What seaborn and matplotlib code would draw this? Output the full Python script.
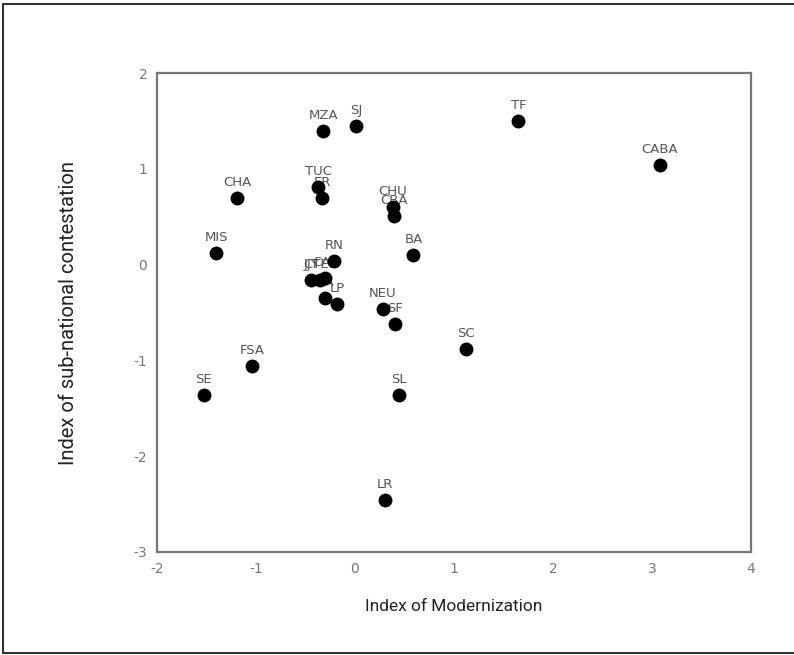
import pandas as pd
import matplotlib
matplotlib.use("Agg")
import matplotlib.pyplot as plt
from matplotlib.lines import Line2D
import seaborn as sns

# Province codes and their index values
provinces = ['MZA', 'SJ', 'TF', 'CABA', 'CHA', 'TUC', 'ER', 'CHU', 'CBA', 'MIS',
             'RN', 'BA', 'JJY', 'CTES', 'CAT', 'SA', 'LP', 'NEU', 'SF', 'SC',
             'FSA', 'SE', 'SL', 'LR']
modernization = [-0.32, 0.01, 1.65, 3.08, -1.19, -0.37, -0.33, 0.38, 0.39, -1.40,
                 -0.21, 0.59, -0.44, -0.35, -0.30, -0.30, -0.18, 0.28, 0.40, 1.12,
                 -1.04, -1.53, 0.44, 0.30]
contestation = [1.39, 1.45, 1.50, 1.04, 0.70, 0.81, 0.70, 0.60, 0.51, 0.12,
                0.04, 0.10, -0.16, -0.16, -0.14, -0.35, -0.41, -0.46, -0.62, -0.88,
                -1.06, -1.36, -1.36, -2.46]

x_ticks = [-2, -1, 0, 1, 2, 3, 4]
y_ticks = [-3, -2, -1, 0, 1, 2]

df = pd.DataFrame({'prov': provinces, 'mod': modernization, 'cont': contestation})

sns.set_style("white")
plt.rcParams['font.family'] = ['DejaVu Sans']
plt.rcParams['axes.unicode_minus'] = False

fig = plt.figure(figsize=(7.94, 6.55), dpi=100)
ax = fig.add_axes([0.1977, 0.1573, 0.7481, 0.7312])

sns.scatterplot(x='mod', y='cont', data=df, ax=ax, color='black', s=100,
                edgecolor='black', linewidth=0, legend=False, zorder=3)

for name, xv, yv in zip(df['prov'], df['mod'], df['cont']):
    ax.annotate(name, (xv, yv), xytext=(0, 6.5), textcoords='offset points',
                ha='center', va='bottom', fontsize=9.5, color='#555555',
                family=['DejaVu Sans'], zorder=2)

ax.set_xlim(-2, 4)
ax.set_ylim(-3, 2)
ax.set_xticks(x_ticks)
ax.set_yticks(y_ticks)
ax.tick_params(direction='out', length=3, width=2, color='#222222',
               labelsize=10, labelcolor='#777777', pad=4)
for sp in ax.spines.values():
    sp.set_visible(True)
    sp.set_color('#777777')
    sp.set_linewidth(1.6)

label_font = ['Liberation Sans Narrow', 'Roboto', 'DejaVu Sans']
ax.set_xlabel('Index of Modernization', fontsize=12.5, color='#222222',
              family=label_font, labelpad=17)
ax.set_ylabel('Index of sub-national contestation', fontsize=14.5, color='#222222',
              family=label_font, labelpad=40)

# outer frame around the figure
frame_kw = dict(color='#333333', linewidth=1.5, transform=fig.transFigure)
fig.add_artist(Line2D([0.004, 1.0], [0.994, 0.994], **frame_kw))
fig.add_artist(Line2D([0.004, 0.004], [0.003, 0.994], **frame_kw))
fig.add_artist(Line2D([0.004, 1.0], [0.003, 0.003], **frame_kw))

fig.savefig('out.png', dpi=100)
plt.close(fig)
